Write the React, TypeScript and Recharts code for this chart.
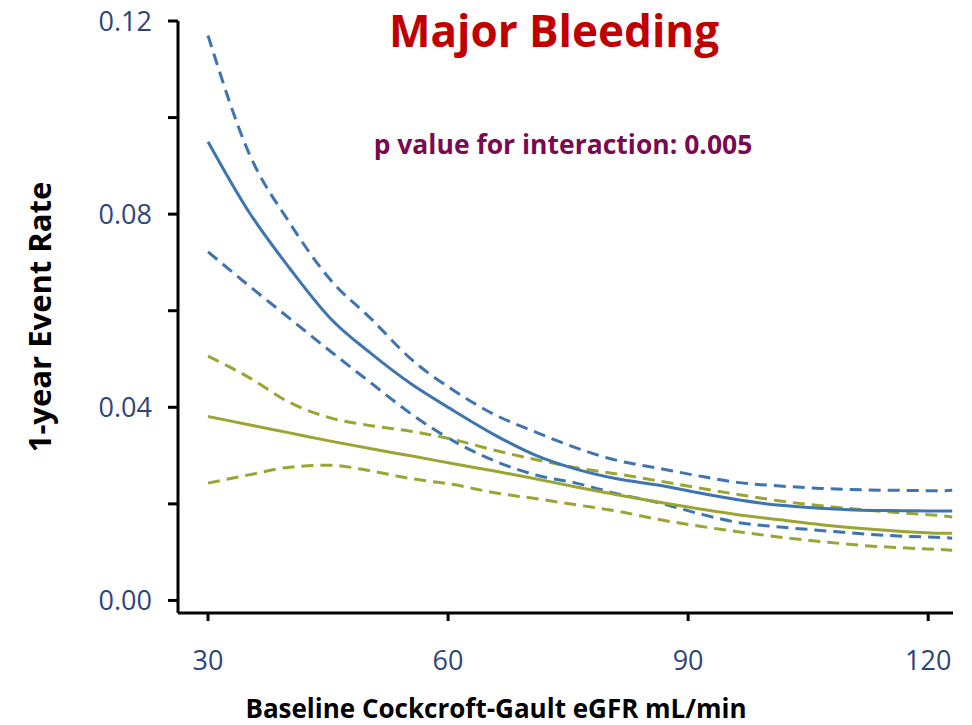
import { LineChart, Line, XAxis, YAxis } from "recharts";

const egfr = [30, 35.1, 40.2, 45.3, 50.4, 55.5, 60.7, 65.8, 70.9, 76, 81.1, 86.2, 91.3, 96.4, 101.5, 106.6, 111.7, 116.8, 122, 123];

const blueRate = [0.095, 0.0805, 0.0688, 0.0584, 0.0511, 0.0447, 0.0393, 0.0343, 0.0301, 0.0272, 0.0252, 0.0239, 0.0223, 0.0208, 0.0197, 0.0191, 0.0187, 0.0186, 0.0185, 0.0185];
const blueUpper = [0.117, 0.0927, 0.0782, 0.0664, 0.0583, 0.0498, 0.0435, 0.0385, 0.0349, 0.0316, 0.029, 0.0274, 0.0258, 0.0244, 0.0237, 0.0232, 0.0229, 0.0228, 0.0227, 0.0228];
const blueLower = [0.0722, 0.0652, 0.0584, 0.0516, 0.045, 0.0385, 0.033, 0.0289, 0.026, 0.0243, 0.0221, 0.0203, 0.018, 0.0161, 0.0152, 0.0145, 0.0138, 0.0133, 0.013, 0.0129];

const greenRate = [0.0381, 0.0364, 0.0347, 0.033, 0.0314, 0.0299, 0.0283, 0.0268, 0.0252, 0.0235, 0.0219, 0.0204, 0.019, 0.0177, 0.0167, 0.0157, 0.0149, 0.0143, 0.0139, 0.0139];
const greenUpper = [0.0506, 0.0462, 0.041, 0.0378, 0.0362, 0.035, 0.0333, 0.0311, 0.0292, 0.0275, 0.0262, 0.0248, 0.0233, 0.0219, 0.0206, 0.0196, 0.0188, 0.0181, 0.0175, 0.0173];
const greenLower = [0.0243, 0.026, 0.0276, 0.028, 0.0268, 0.0252, 0.024, 0.0223, 0.0211, 0.0198, 0.0185, 0.0168, 0.0154, 0.0142, 0.0131, 0.0122, 0.0114, 0.0109, 0.0105, 0.0104];

const yTicks = [0, 0.02, 0.04, 0.06, 0.08, 0.1, 0.12];
const xTicks = [30, 60, 90, 120];

const BLUE = "#3E74B0";
const GREEN = "#9AA532";
const TICK_COLOUR = "#2F4577";
const FONT = "'Open Sans', 'Noto Sans', sans-serif";
const DASH = "12 7";

const data = egfr.map((x, i) => ({
  x,
  blueRate: blueRate[i],
  blueUpper: blueUpper[i],
  blueLower: blueLower[i],
  greenRate: greenRate[i],
  greenUpper: greenUpper[i],
  greenLower: greenLower[i],
}));

// only every other tick (0.00, 0.04, ...) carries a label
const formatY = (v: number) =>
  Math.round(v * 100) % 4 === 0 ? v.toFixed(2) : "";

const textBase = {
  position: "absolute" as const,
  fontWeight: 700,
  lineHeight: 1.1,
  whiteSpace: "nowrap" as const,
};

export default function App() {
  return (
    <div
      style={{
        position: "absolute",
        left: 0,
        top: 0,
        width: 972,
        height: 725,
        background: "#fff",
        fontFamily: FONT,
      }}
    >
      <LineChart
        width={972}
        height={725}
        data={data}
        margin={{ top: 21, right: 19, left: 0, bottom: 0 }}
      >
        <XAxis
          type="number"
          dataKey="x"
          domain={[26.25, 123.1]}
          ticks={xTicks}
          allowDataOverflow
          height={112}
          axisLine={{ stroke: "#000", strokeWidth: 3 }}
          tickLine={{ stroke: "#000", strokeWidth: 3 }}
          tickSize={8}
          tickMargin={30}
          tick={{ fill: TICK_COLOUR, fontSize: 27, fontFamily: FONT }}
        />
        <YAxis
          type="number"
          domain={[-0.0026, 0.12]}
          ticks={yTicks}
          allowDataOverflow
          width={178}
          interval={0}
          tickFormatter={formatY}
          axisLine={{ stroke: "#000", strokeWidth: 3 }}
          tickLine={{ stroke: "#000", strokeWidth: 3 }}
          tickSize={10}
          tickMargin={16}
          tick={{ fill: TICK_COLOUR, fontSize: 27, fontFamily: FONT }}
        />
        <Line type="monotone" dataKey="blueUpper" stroke={BLUE} strokeWidth={3} strokeDasharray={DASH} dot={false} isAnimationActive={false} />
        <Line type="monotone" dataKey="blueLower" stroke={BLUE} strokeWidth={3} strokeDasharray={DASH} dot={false} isAnimationActive={false} />
        <Line type="monotone" dataKey="greenUpper" stroke={GREEN} strokeWidth={3} strokeDasharray={DASH} dot={false} isAnimationActive={false} />
        <Line type="monotone" dataKey="greenLower" stroke={GREEN} strokeWidth={3} strokeDasharray={DASH} dot={false} isAnimationActive={false} />
        <Line type="monotone" dataKey="greenRate" stroke={GREEN} strokeWidth={3} dot={false} isAnimationActive={false} />
        <Line type="monotone" dataKey="blueRate" stroke={BLUE} strokeWidth={3} dot={false} isAnimationActive={false} />
      </LineChart>

      <div
        style={{
          ...textBase,
          left: 554,
          top: 0,
          lineHeight: "normal",
          transform: "translateX(-50%)",
          color: "#C00000",
          fontSize: 44,
        }}
      >
        Major Bleeding
      </div>
      <div
        style={{
          ...textBase,
          left: 563,
          top: 145,
          transform: "translate(-50%, -50%)",
          color: "#7A0A50",
          fontSize: 26.5,
        }}
      >
        p value for interaction: 0.005
      </div>
      <div
        style={{
          ...textBase,
          left: 39,
          top: 317,
          transform: "translate(-50%, -50%) rotate(-90deg)",
          color: "#000",
          fontSize: 31,
        }}
      >
        1-year Event Rate
      </div>
      <div
        style={{
          ...textBase,
          left: 496,
          top: 708,
          transform: "translate(-50%, -50%)",
          color: "#000",
          fontSize: 26,
        }}
      >
        Baseline Cockcroft-Gault eGFR mL/min
      </div>
    </div>
  );
}
